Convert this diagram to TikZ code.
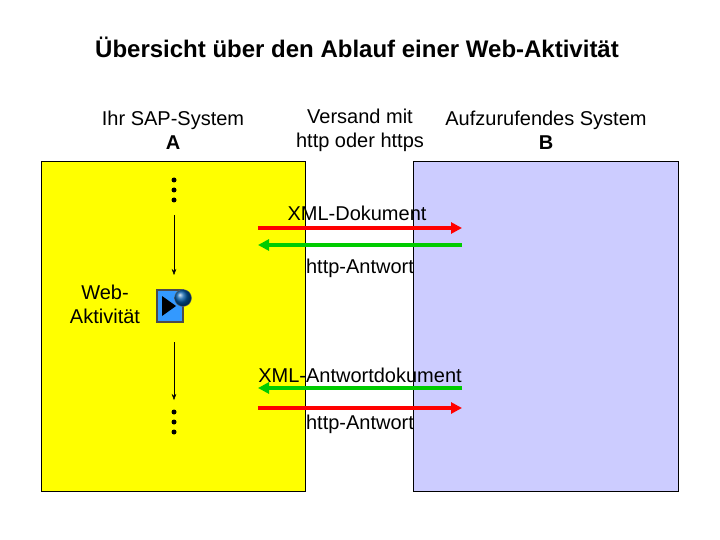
\documentclass[tikz,border=0pt]{standalone}
\usepackage{fontspec}
\setmainfont{Liberation Sans}
\usetikzlibrary{arrows.meta, positioning}
\definecolor{sapyellow}{RGB}{255,255,0}
\definecolor{remoteblue}{RGB}{204,204,255}
\definecolor{iconblue}{RGB}{51,153,255}
\tikzset{
    system/.style = {draw=black, anchor=north west, inner sep=0pt},
    label/.style = {font=\fontsize{20}{24}\selectfont, align=center, inner sep=0pt},
    sendarrow/.style = {draw=red, line width=3.5pt, -{Triangle[length=11pt,width=11pt]}},
    backarrow/.style = {draw=green!80!black, line width=3.5pt, -{Triangle[length=11pt,width=11pt]}},
    flow/.style = {thin, -{Stealth[length=6pt]}},
    dot/.style = {circle, fill=black, inner sep=0pt, minimum size=5pt}
}
\begin{document}
\begin{tikzpicture}[x=1pt, y=-1pt]
\useasboundingbox (0,0) rectangle (720,540);

% Systems
\node[system, fill=sapyellow, minimum width=264pt, minimum height=330pt] (sap) at (41,161) {};
\node[system, fill=remoteblue, minimum width=265pt, minimum height=330pt] (remote) at (413,161) {};

% Headings
\node[font=\fontsize{24}{28}\selectfont\bfseries] (title) at (357,47) {Übersicht über den Ablauf einer Web-Aktivität};
\node[label] (sap_head) at (173,130) {Ihr SAP-System\\\textbf{A}};
\node[label] (transport_head) at (360,130) {Versand mit\\http oder https};
\node[label] (remote_head) at (546,130) {Aufzurufendes System\\\textbf{B}};

% Process in A
\foreach \y in {180,190,200,412,422,432} \node[dot] at (174,\y) {};
\coordinate (flow_a) at (174,215);
\coordinate (flow_b) at (174,275);
\coordinate (flow_c) at (174,342);
\coordinate (flow_d) at (174,400);
\draw[flow] (flow_a) -- (flow_b);
\draw[flow] (flow_c) -- (flow_d);
\node[label] (web_label) at (105,304) {Web-\\Aktivität};
\node[draw=black!70, line width=1.5pt, fill=iconblue, minimum width=26pt, minimum height=32pt, inner sep=0pt] (icon) at (170,306) {};
\fill[black] ([xshift=-8pt,yshift=-10pt]icon.center) -- ([xshift=-8pt,yshift=10pt]icon.center) -- ([xshift=6pt]icon.center) -- cycle;
\shade[ball color=teal!70!blue, draw=black!60] (183,298) circle (8.5pt);

% Messages
\coordinate (left_in) at (258,228);
\coordinate (right_in) at (462,228);
\coordinate (left_back) at (258,245);
\coordinate (right_back) at (462,245);
\draw[sendarrow] (left_in) -- (right_in);
\draw[backarrow] (right_back) -- (left_back);
\node[label] (xml_doc) at (357,213) {XML-Dokument};
\node[label] (ack_a) at (360,268) {http-Antwort};

\coordinate (left_resp) at (258,388);
\coordinate (right_resp) at (462,388);
\coordinate (left_ack) at (258,408);
\coordinate (right_ack) at (462,408);
\draw[backarrow] (right_resp) -- (left_resp);
\draw[sendarrow] (left_ack) -- (right_ack);
\node[label] (xml_resp) at (360,375) {XML-Antwortdokument};
\node[label] (ack_b) at (360,424) {http-Antwort};
\end{tikzpicture}
\end{document}
